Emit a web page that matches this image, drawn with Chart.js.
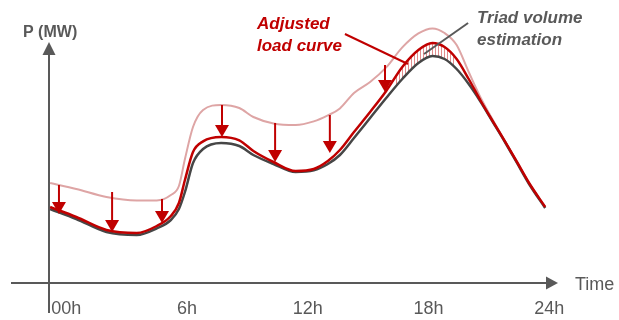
<!DOCTYPE html>
<html>
<head>
<meta charset="utf-8">
<script src="https://cdn.jsdelivr.net/npm/chart.js@4.4.1/dist/chart.umd.min.js"></script>
<style>
  html, body { margin: 0; padding: 0; background: #ffffff; }
  #wrap { position: relative; width: 619px; height: 320px; }
</style>
</head>
<body>
<div id="wrap"><canvas id="c" width="619" height="320"></canvas></div>
<script>
// Hour of day for each sample of the three load curves
const hours = [-0.8, 0.5, 2, 3.5, 4.5, 5.2, 5.6, 5.9, 6.3, 6.8, 7.7, 8.6, 9.3, 10.3, 11.4, 12.3,
               13, 13.6, 14.3, 15.1, 15.9, 16.7, 17.5, 18.2, 18.8, 19.4, 20, 20.6, 21.2, 21.8,
               22.4, 23, 23.8];

// Original load curve (MW)
const originalLoad = [50, 47, 43, 41.3, 41.3, 44, 48.5, 62, 78, 86.5, 89, 87.5, 83, 79.8, 79, 80.8,
                      83.8, 87.3, 95, 100.5, 107.8, 117.8, 124.8, 127.3, 125, 119, 105.5, 92.5, 81.5, 71,
                      60.5, 50, 38];

// Adjusted load curve (MW)
const adjustedLoad = [38, 33, 26.5, 25, 28.5, 33.5, 40, 51.5, 65.5, 70.8, 73, 71.3, 66, 60.5, 56, 57,
                      61, 66.5, 75.5, 85.5, 96, 108, 116.5, 120, 118, 112, 102, 91, 80.8, 70.8,
                      60.5, 50, 38];

// Triad volume estimation (MW)
const triadLoad = [37, 32, 25.5, 24, 27.3, 31.5, 37, 45.5, 60, 67, 70, 68.5, 64, 59.5, 55.5, 56.3,
                   59.5, 64, 72.5, 82.5, 92.5, 102, 110, 113.5, 112, 107, 99.5, 90.5, 80.5, 70.5,
                   60, 49.5, 37.5];

// Hatched band between the adjusted curve and the triad estimation
const hatchHours = [16.3, 16.7, 17.5, 18.2, 18.8, 19.3];
const hatchTop = [102, 108, 116.5, 120, 118, 113];

// Load-shift arrows: hour, start value, end value (MW)
const arrowHours = [-0.36, 2.28, 4.76, 7.74, 10.38, 13.1, 15.84];
const arrowFrom = [49, 45.5, 42, 89, 80, 84, 109];
const arrowTo = [34.5, 25.5, 30, 73, 60.5, 65, 95.5];

// Axis ticks
const tickHours = [0, 6, 12, 18, 24];
const tickLabels = ['00h', '6h', '12h', '18h', '24h'];

const FONT = 'Arial, "Liberation Sans", sans-serif';
const RED = '#c00000';
const PINK = 'rgb(222,165,165)';
const DARK = '#464646';
const AXIS = '#595959';

const pts = (xs, ys) => xs.map((x, i) => ({ x: x, y: ys[i] }));

const canvas = document.getElementById('c');
const ctx0 = canvas.getContext('2d');

// vertical stripe pattern for the hatched band
function stripePattern() {
  const t = document.createElement('canvas');
  t.width = 3; t.height = 4;
  const g = t.getContext('2d');
  g.fillStyle = 'rgb(226,140,140)';
  g.fillRect(0, 0, 1, 4);
  return ctx0.createPattern(t, 'repeat');
}

const decorations = {
  id: 'decorations',
  beforeDatasetsDraw(chart) {
    const { ctx, chartArea: a, scales: { y } } = chart;
    ctx.save();
    ctx.strokeStyle = AXIS;
    ctx.fillStyle = AXIS;
    ctx.lineWidth = 2;
    // x axis with arrow
    ctx.beginPath();
    ctx.moveTo(a.left - 38, a.bottom);
    ctx.lineTo(a.right - 10, a.bottom);
    ctx.stroke();
    ctx.beginPath();
    ctx.moveTo(a.right, a.bottom);
    ctx.lineTo(a.right - 12, a.bottom - 6.5);
    ctx.lineTo(a.right - 12, a.bottom + 6.5);
    ctx.closePath();
    ctx.fill();
    // y axis with arrow
    const tip = y.getPixelForValue(120.5);
    ctx.beginPath();
    ctx.moveTo(a.left, a.bottom + 30);
    ctx.lineTo(a.left, tip + 10);
    ctx.stroke();
    ctx.beginPath();
    ctx.moveTo(a.left, tip);
    ctx.lineTo(a.left - 6.5, tip + 13);
    ctx.lineTo(a.left + 6.5, tip + 13);
    ctx.closePath();
    ctx.fill();

    // axis titles
    ctx.font = 'bold 16px ' + FONT;
    ctx.textBaseline = 'alphabetic';
    ctx.textAlign = 'left';
    ctx.fillText('P (MW)', 23, 37);
    ctx.font = '18px ' + FONT;
    ctx.fillText('Time', 575, 290);
    ctx.restore();
  },
  afterDatasetsDraw(chart) {
    const { ctx, scales: { x, y } } = chart;
    ctx.save();
    // arrows
    ctx.strokeStyle = RED;
    ctx.fillStyle = RED;
    ctx.lineWidth = 2;
    arrowHours.forEach((h, i) => {
      const px = x.getPixelForValue(h);
      const y0 = y.getPixelForValue(arrowFrom[i]);
      const y1 = y.getPixelForValue(arrowTo[i]);
      ctx.beginPath();
      ctx.moveTo(px, y0);
      ctx.lineTo(px, y1 - 10);
      ctx.stroke();
      ctx.beginPath();
      ctx.moveTo(px, y1);
      ctx.lineTo(px - 7, y1 - 12);
      ctx.lineTo(px + 7, y1 - 12);
      ctx.closePath();
      ctx.fill();
    });

    // leader lines
    ctx.lineWidth = 2;
    ctx.strokeStyle = RED;
    ctx.beginPath();
    ctx.moveTo(x.getPixelForValue(13.85), y.getPixelForValue(124.5));
    ctx.lineTo(x.getPixelForValue(16.98), y.getPixelForValue(109.5));
    ctx.stroke();
    ctx.strokeStyle = AXIS;
    ctx.beginPath();
    ctx.moveTo(x.getPixelForValue(19.97), y.getPixelForValue(130));
    ctx.lineTo(x.getPixelForValue(17.78), y.getPixelForValue(114.5));
    ctx.stroke();

    // callouts
    ctx.font = 'italic bold 17px ' + FONT;
    ctx.textAlign = 'left';
    ctx.textBaseline = 'alphabetic';
    ctx.fillStyle = RED;
    ctx.fillText('Adjusted', 257, 29);
    ctx.fillText('load curve', 257, 51);
    ctx.fillStyle = AXIS;
    ctx.fillText('Triad volume', 477, 23);
    ctx.fillText('estimation', 477, 45);
    ctx.restore();
  }
};

new Chart(canvas, {
  type: 'line',
  data: {
    datasets: [
      {
        label: 'Adjusted load curve',
        data: pts(hours, adjustedLoad),
        borderColor: RED,
        borderWidth: 2.5,
        fill: false,
        cubicInterpolationMode: 'monotone'
      },
      {
        label: 'Triad volume estimation',
        data: pts(hours, triadLoad),
        borderColor: DARK,
        borderWidth: 2.5,
        fill: false,
        cubicInterpolationMode: 'monotone'
      },
      {
        label: 'Original load curve',
        data: pts(hours, originalLoad),
        borderColor: PINK,
        borderWidth: 2,
        fill: false,
        cubicInterpolationMode: 'monotone'
      },
      {
        label: 'Triad volume',
        data: pts(hatchHours, hatchTop),
        borderWidth: 0,
        borderColor: 'rgba(0,0,0,0)',
        backgroundColor: stripePattern(),
        fill: { target: 1 },
        cubicInterpolationMode: 'monotone'
      }
    ]
  },
  options: {
    responsive: false,
    animation: false,
    devicePixelRatio: 1,
    layout: { padding: { left: 49, right: 61, top: 20, bottom: 0 } },
    plugins: { legend: { display: false }, tooltip: { enabled: false } },
    elements: { point: { radius: 0, hoverRadius: 0 } },
    scales: {
      x: {
        type: 'linear',
        min: -0.855,
        max: 24.437,
        grid: { display: false, drawTicks: false },
        border: { display: false },
        afterBuildTicks: (s) => { s.ticks = tickHours.map(v => ({ value: v })); },
        afterFit: (s) => { s.height = 37; },
        ticks: {
          padding: 15,
          color: AXIS,
          autoSkip: false,
          maxRotation: 0,
          font: { family: FONT, size: 18 },
          callback: (v, i) => tickLabels[i]
        }
      },
      y: { display: false, min: 0, max: 131.5 }
    }
  },
  plugins: [decorations]
});
</script>
</body>
</html>
